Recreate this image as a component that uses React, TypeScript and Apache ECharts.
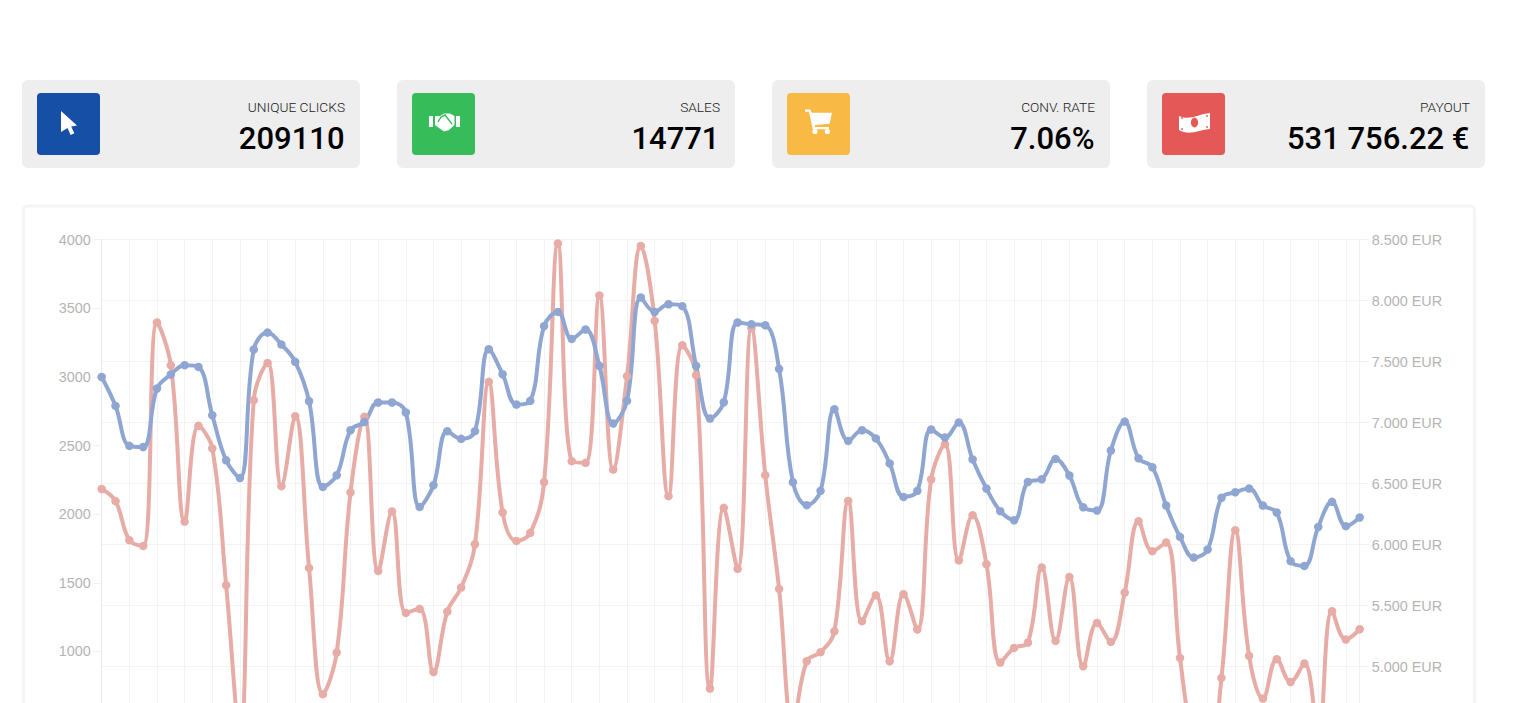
import React, { useEffect, useRef } from "react";
import * as echarts from "echarts";

const clicksSeries = [3000, 2789, 2498, 2490, 2916, 3018, 3086, 3073, 2721, 2393, 2264, 3200, 3323, 3236, 3110, 2823, 2199, 2284, 2612, 2672, 2814, 2814, 2741, 2053, 2211, 2605, 2549, 2605, 3202, 3020, 2799, 2826, 3370, 3474, 3277, 3346, 3081, 2661, 2826, 3579, 3474, 3530, 3516, 3081, 2697, 2816, 3397, 3384, 3377, 3059, 2233, 2066, 2170, 2765, 2534, 2612, 2552, 2370, 2126, 2170, 2617, 2559, 2668, 2399, 2187, 2022, 1956, 2235, 2255, 2403, 2282, 2051, 2027, 2464, 2675, 2408, 2342, 2063, 1835, 1684, 1743, 2119, 2160, 2187, 2063, 2012, 1658, 1623, 1907, 2090, 1913, 1976];
const payoutSeries = [6457, 6357, 6037, 5990, 7821, 7471, 6190, 6974, 6789, 5668, 4439, 7185, 7490, 6480, 7053, 5810, 4775, 5116, 6428, 7048, 5785, 6272, 5441, 5474, 4957, 5452, 5649, 6004, 7335, 6264, 6031, 6097, 6512, 8469, 6685, 6671, 8043, 6616, 7381, 8449, 7835, 6398, 7635, 7390, 4821, 6302, 5802, 7775, 6570, 5638, 4520, 5045, 5119, 5291, 6359, 5373, 5586, 5045, 5594, 5305, 6535, 6824, 5871, 6242, 5840, 5034, 5154, 5198, 5813, 5212, 5736, 5004, 5359, 5203, 5608, 6193, 5947, 6018, 5072, 4357, 4152, 4908, 6119, 5089, 4739, 5062, 4875, 5026, 4439, 5455, 5223, 5307];
const days = clicksSeries.map((_, i) => String(i + 1));

const cardTitles = ["UNIQUE CLICKS", "SALES", "CONV. RATE", "PAYOUT"];
const cardValues = ["209110", "14771", "7.06%", "531 756.22 €"];
const cardColors = ["#1650a6", "#36bd5a", "#f9b945", "#e45858"];
const cardLefts = [22, 397, 772, 1147];

echarts.graphic.registerShape("iconPointer", echarts.graphic.extendPath(
  "M0 0L16 14.5L10.2 15.6L13.3 22.3L9.6 24L6.5 17L0 21Z", {}));
echarts.graphic.registerShape("iconCart", echarts.graphic.extendPath(
  "M0 0L5.6 0L6.5 3.2L27 3.2L24.6 14.3L9.7 15.6L10.2 17.6L24 17.6L24 19.8L7.8 19.8L3.9 2.3L0 2.3Z" +
  "M7.4 22A2.6 2.6 0 1 0 12.6 22A2.6 2.6 0 1 0 7.4 22Z" +
  "M19.8 22A2.6 2.6 0 1 0 25 22A2.6 2.6 0 1 0 19.8 22Z", {}));
echarts.graphic.registerShape("iconMoney", echarts.graphic.extendPath(
  "M0 3C10 8 20 1 31 0L31 16C20 17 10 23 0 17Z", {}));
echarts.graphic.registerShape("iconShake", echarts.graphic.extendPath(
  "M0 3L4 3L4 14L0 14Z" +
  "M27 3L31 3L31 14L27 14Z" +
  "M6 3L11 3L15 0.5L21 0.5L25.5 3L25.5 12L20 17L15 18.5L10 15L6 12Z", {}));

function cardGraphics(i: number) {
  const left = cardLefts[i];
  const color = cardColors[i];
  const ix = left + 15;
  const items: any[] = [
    { type: "rect", silent: true, shape: { x: left, y: 80, width: 338, height: 88, r: 6 }, style: { fill: "#eeeeee" } },
    { type: "rect", silent: true, shape: { x: ix, y: 93, width: 63, height: 62, r: 4 }, style: { fill: color } },
    { type: "text", silent: true, x: left + 323, y: 107, style: { text: cardTitles[i], fill: "#222222", font: "300 13.7px Roboto", align: "right", verticalAlign: "middle" } },
    { type: "text", silent: true, x: left + 322.5, y: 138, style: { text: cardValues[i], fill: "#000000", font: "500 31px Roboto", align: "right", verticalAlign: "middle" } },
  ];
  const white = { fill: "#ffffff" };
  if (i === 0) items.push({ type: "iconPointer", silent: true, x: 61, y: 111, style: white });
  if (i === 1) {
    items.push({ type: "iconShake", silent: true, x: 429, y: 113, style: white });
    items.push({ type: "polyline", silent: true, shape: { points: [[438, 122], [441, 117], [445, 115], [452, 124]] }, style: { stroke: color, lineWidth: 1.4, fill: "none" } });
  }
  if (i === 2) items.push({ type: "iconCart", silent: true, x: 805, y: 109.5, style: white });
  if (i === 3) {
    items.push({ type: "iconMoney", silent: true, x: 1179, y: 113, style: white });
    items.push({ type: "ellipse", silent: true, shape: { cx: 1194.5, cy: 122.5, rx: 3.6, ry: 5 }, style: { fill: color } });
    for (const [cx, cy] of [[1182, 118], [1207, 116], [1182, 129], [1207, 127]]) {
      items.push({ type: "circle", silent: true, shape: { cx, cy, r: 0.9 }, style: { fill: color } });
    }
  }
  return items;
}

const axisText = { color: "#b4b4b4", fontSize: 14.4, fontFamily: "Liberation Sans" };

export default function App() {
  const ref = useRef<HTMLDivElement>(null);
  useEffect(() => {
    document.body.style.margin = "0";
    document.body.style.overflow = "hidden";
    const chart = echarts.init(ref.current!, null, { renderer: "svg" });
    chart.setOption({
      animation: false,
      backgroundColor: "#ffffff",
      graphic: {
        elements: [
          { type: "rect", silent: true, z: -1, shape: { x: 23.5, y: 206, width: 1451, height: 640, r: 4 }, style: { fill: "#ffffff", stroke: "#f5f5f5", lineWidth: 3 } },
          ...cardGraphics(0), ...cardGraphics(1), ...cardGraphics(2), ...cardGraphics(3),
        ],
      },
      grid: { left: 101.7, top: 239.7, width: 1258, height: 549, containLabel: false, show: false },
      xAxis: {
        type: "category", data: days, boundaryGap: false,
        axisLine: { show: false }, axisTick: { show: false }, axisLabel: { show: false },
        splitLine: { show: true, interval: 1, lineStyle: { color: "#f3f3f3", width: 1 } },
      },
      yAxis: [
        {
          type: "value", min: 0, max: 4000, interval: 500, position: "left",
          axisLine: { show: true, lineStyle: { color: "#e8e8e8", width: 1 } },
          axisTick: { show: true, length: 9, lineStyle: { color: "#f1f1f1" } },
          axisLabel: { ...axisText, margin: 11, formatter: (v: number) => (v < 1000 ? "" : String(v)) },
          splitLine: { show: false },
        },
        {
          type: "value", min: 4000, max: 8500, interval: 500, position: "right",
          axisLine: { show: true, lineStyle: { color: "#f1f1f1", width: 1 } },
          axisTick: { show: true, length: 9, lineStyle: { color: "#f1f1f1" } },
          axisLabel: { ...axisText, margin: 12, formatter: (v: number) => (v < 5000 ? "" : String(v).replace(/(\d)(\d{3})$/, "$1.$2") + " EUR") },
          splitLine: { show: true, lineStyle: { color: "#f3f3f3", width: 1 } },
        },
      ],
      series: [
        {
          name: "Payout", type: "line", yAxisIndex: 1, data: payoutSeries, smooth: 0.4, clip: false,
          symbol: "circle", symbolSize: 8.5, showAllSymbols: true, showSymbol: true,
          lineStyle: { color: "#e8aca7", width: 4 }, itemStyle: { color: "#e8aca7" },
        },
        {
          name: "Unique clicks", type: "line", yAxisIndex: 0, data: clicksSeries, smooth: 0.4, clip: false,
          symbol: "circle", symbolSize: 8.5, showAllSymbols: true, showSymbol: true,
          lineStyle: { color: "#8fa6d2", width: 4 }, itemStyle: { color: "#8fa6d2" },
        },
      ],
    });
    return () => chart.dispose();
  }, []);
  return (
    <div style={{ width: 1527, height: 703, overflow: "hidden" }}>
      <div ref={ref} style={{ width: 1527, height: 860 }} />
    </div>
  );
}
